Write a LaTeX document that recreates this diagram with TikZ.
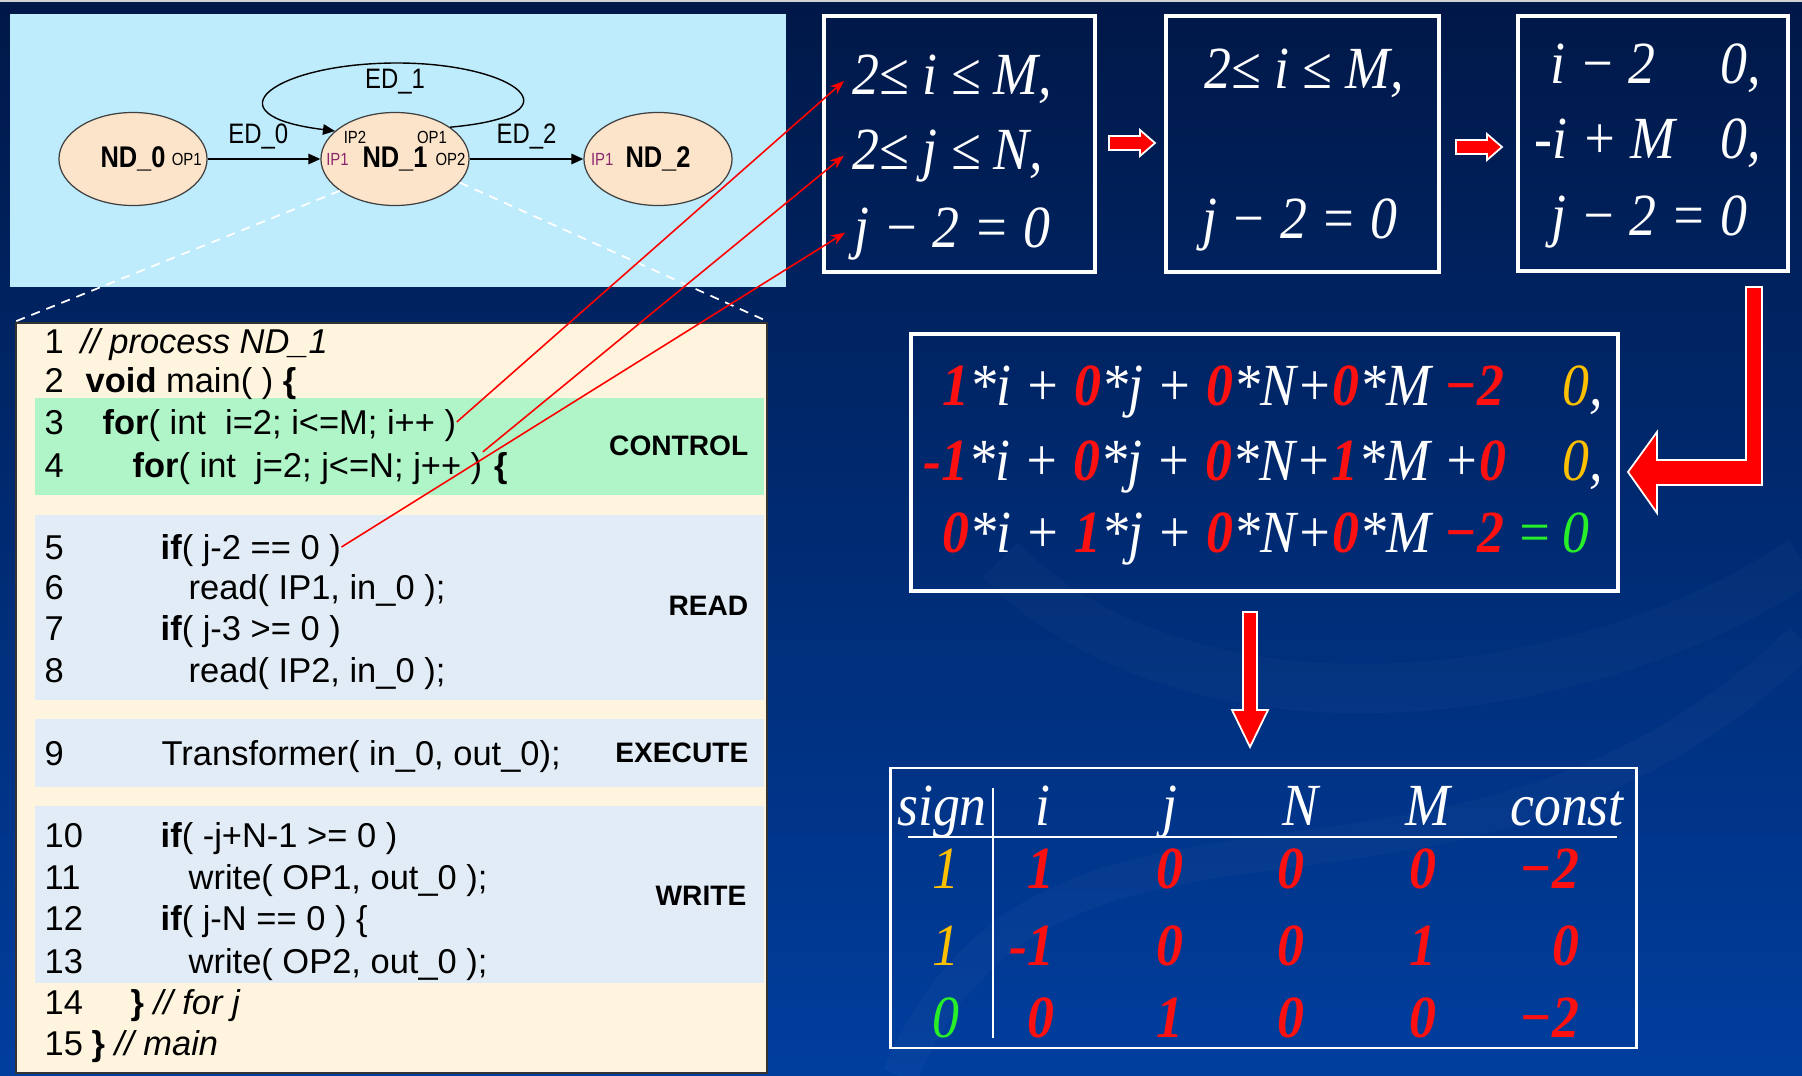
\documentclass[tikz,border=0pt]{standalone}
\usepackage{fontspec}
\usepackage{xcolor}
\usepackage{tikz}
\usetikzlibrary{
	arrows.meta,
	calc,
	positioning,
	shapes.geometric
}
\newfontfamily\codefont{Liberation Sans}
\newfontfamily\graphfont[FakeStretch=0.85]{Liberation Sans}
\newfontfamily\eqfont[FakeStretch=0.9]{Liberation Serif}

\definecolor{BgTop}{RGB}{0,24,72}
\definecolor{BgBot}{RGB}{0,62,158}
\definecolor{PanelBlue}{RGB}{190,236,252}
\definecolor{NodeFill}{RGB}{252,228,202}
\definecolor{CodeCream}{RGB}{255,245,222}
\definecolor{CtrlGreen}{RGB}{176,245,200}
\definecolor{BandBlue}{RGB}{226,236,246}
\definecolor{EqRed}{RGB}{255,16,16}
\definecolor{EqOrange}{RGB}{255,192,0}
\definecolor{EqGreen}{RGB}{40,240,40}
\definecolor{PortIn}{RGB}{140,40,110}

\newcommand{\rc}[1]{\textcolor{EqRed}{\bfseries #1}}

\tikzset{
	proc/.style={ellipse, draw=black!75, fill=NodeFill, line width=0.35pt, minimum width=1.48cm, minimum height=0.93cm, inner sep=0pt, font=\graphfont\bfseries\fontsize{8.5}{10}\selectfont},
	port/.style={inner sep=0.5pt, font=\graphfont\fontsize{5}{6}\selectfont},
	edge/.style={-{Triangle[length=3.4pt,width=3pt]}, line width=0.4pt},
	elabel/.style={inner sep=0pt, font=\graphfont\fontsize{8}{9}\selectfont},
	codeline/.style={anchor=west, inner sep=0pt, text height=7.1pt, text depth=0pt, font=\codefont\fontsize{9.8}{12}\selectfont},
	tag/.style={anchor=east, inner sep=0pt, text height=5.8pt, text depth=0pt, font=\codefont\bfseries\fontsize{8}{9}\selectfont},
	mathbox/.style={draw=white, line width=1pt, inner sep=0pt},
	eq/.style={inner sep=0pt, text=white, text height=11.5pt, text depth=0pt, font=\eqfont\itshape\fontsize{17}{20}\selectfont},
	redlink/.style={draw=red, line width=0.45pt, -{Stealth[length=4pt,width=3pt]}},
	zoomline/.style={draw=white, line width=0.5pt, dash pattern=on 2.6pt off 2pt},
	blockarrow/.style={fill=red, draw=white, line width=0.5pt, line join=miter}
}

\begin{document}
\begin{tikzpicture}[x=0.01cm, y=-0.01cm]
	\useasboundingbox (0,0) rectangle (1802,1076);
	\shade[top color=BgTop, bottom color=BgBot] (0,0) rectangle (1802,1076);
	\fill[gray!35] (0,0) rectangle (1802,2.5);
	\draw[white, opacity=0.025, line width=10pt] (900,1076) .. controls (1050,720) and (1450,980) .. (1802,640);
	\draw[white, opacity=0.02, line width=14pt] (1000,560) .. controls (1200,760) and (1600,700) .. (1802,560);

	% process graph
	\fill[PanelBlue] (10,14) rectangle (786,287);
	\node[proc] (nd0) at (133,159) {ND\_0};
	\node[proc] (nd1) at (395,159) {ND\_1};
	\node[proc] (nd2) at (658,159) {ND\_2};
	\node[port, anchor=east] (nd0op1) at ([xshift=-1pt]nd0.east) {OP1};
	\node[port, anchor=west, text=PortIn] (nd1ip1) at ([xshift=1pt]nd1.west) {IP1};
	\node[port, anchor=east] (nd1op2) at ([xshift=-0.5pt]nd1.east) {OP2};
	\node[port] (nd1ip2) at ([shift={(-40,-22)}]nd1.center) {IP2};
	\node[port] (nd1op1) at ([shift={(37,-22)}]nd1.center) {OP1};
	\node[port, anchor=west, text=PortIn] (nd2ip1) at ([xshift=1.5pt]nd2.west) {IP1};
	\draw[edge] (nd0) -- (nd1) node[elabel, pos=0.45, above=2.5pt] (ed0) {ED\_0};
	\draw[edge] (nd1) -- (nd2) node[elabel, midway, above=2.5pt] (ed2) {ED\_2};
	\draw[edge] (nd1.30) .. controls (585,115) and (515,63) .. (397,63)
		.. controls (275,63) and (205,115) .. (nd1.155);
	\node[elabel] (ed1) at (395,82) {ED\_1};

	% code of ND_1
	\node[draw=black!80, fill=CodeCream, line width=0.6pt, minimum width=7.51cm, minimum height=7.5cm, inner sep=0pt] (code) at (391.5,698) {};
	\fill[CtrlGreen] (35,398) rectangle (764,495);
	\fill[BandBlue] (35,515) rectangle (764,700);
	\fill[BandBlue] (35,719) rectangle (764,787);
	\fill[BandBlue] (35,806) rectangle (764,983);
	\draw[zoomline] (nd1.210) -- (code.north west);
	\draw[zoomline] (nd1.-20) -- (code.north east);
	\foreach \n/\x/\y/\t in {
		1/80/341/{\textit{// process ND\_1}},
		2/85/380/{\textbf{void} main( ) \textbf{\{}},
		3/102/422/{\textbf{for}( int\ \ i=2; i<=M; i++ )},
		4/132/465/{\textbf{for}( int\ \ j=2; j<=N; j++ )},
		5/160/547/{\textbf{if}( j-2 == 0 )},
		6/188/587/{read( IP1, in\_0 );},
		7/160/628/{\textbf{if}( j-3 >= 0 )},
		8/188/670/{read( IP2, in\_0 );},
		9/161/753/{Transformer( in\_0, out\_0);},
		10/160/835/{\textbf{if}( -j+N-1 >= 0 )},
		11/188/877/{write( OP1, out\_0 );},
		12/160/918/{\textbf{if}( j-N == 0 ) \{},
		13/188/961/{write( OP2, out\_0 );},
		14/130/1002/{\textbf{\}} \textit{// for j}},
		15/91/1043/{\textbf{\}} \textit{// main}}} {
		\node[codeline] (num\n) at (44,\y) {\n};
		\node[codeline] (ln\n) at (\x,\y) {\t};
	}
	\node[codeline, right=3pt of ln4] (ln4b) {\textbf{\{}};
	\node[tag] (tctrl) at (749,445) {CONTROL};
	\node[tag] (tread) at (749,605) {READ};
	\node[tag] (texec) at (749,752) {EXECUTE};
	\node[tag] (twrite) at (747,895) {WRITE};

	% polyhedral constraints
	\node[mathbox, minimum width=2.71cm, minimum height=2.56cm] (boxA) at (959.5,144) {};
	\node[mathbox, minimum width=2.73cm, minimum height=2.56cm] (boxB) at (1302.5,144) {};
	\node[mathbox, minimum width=2.7cm, minimum height=2.55cm] (boxC) at (1653,143.5) {};
	\node[eq, anchor=west] (a1) at (852,74) {2≤ i ≤ M,};
	\node[eq, anchor=west] (a2) at (852,149) {2≤ j ≤ N,};
	\node[eq, anchor=west] (a3) at (854,227) {j − 2 = 0};
	\node[eq] (b1) at (1304,68) {2≤ i ≤ M,};
	\node[eq] (b3) at (1300,218) {j − 2 = 0};
	\node[eq, anchor=west] (c1) at (1550,63) {i − 2};
	\node[eq, anchor=west] (c1r) at (1720,63) {0,};
	\node[eq, anchor=west] (c2) at (1534,138) {-i + M};
	\node[eq, anchor=west] (c2r) at (1720,138) {0,};
	\node[eq, anchor=west] (c3) at (1551,215) {j − 2 = 0};
	\filldraw[blockarrow] (1109,136) -- (1140,136) -- (1140,130) -- (1155,143) -- (1140,156) -- (1140,150) -- (1109,150) -- cycle;
	\filldraw[blockarrow] (1456,140) -- (1487,140) -- (1487,134) -- (1502,147) -- (1487,160) -- (1487,154) -- (1456,154) -- cycle;
	\filldraw[blockarrow] (1746,287) -- (1762,287) -- (1762,485) -- (1657,485) -- (1657,513) -- (1628,472) -- (1657,432) -- (1657,460) -- (1746,460) -- cycle;

	\node[mathbox, minimum width=7.07cm, minimum height=2.57cm] (eqbox) at (1264.5,462.5) {};
	\node[eq, anchor=west] (r1) at (942,385) {\rc{1}*i + \rc{0}*j + \rc{0}*N+\rc{0}*M \rc{−2}};
	\node[eq, anchor=west] (r1s) at (1562,385) {\textcolor{EqOrange}{0},};
	\node[eq, anchor=west] (r2) at (923,460) {\rc{-1}*i + \rc{0}*j + \rc{0}*N+\rc{1}*M +\rc{0}};
	\node[eq, anchor=west] (r2s) at (1562,460) {\textcolor{EqOrange}{0},};
	\node[eq, anchor=west] (r3) at (942,532) {\rc{0}*i + \rc{1}*j + \rc{0}*N+\rc{0}*M \rc{−2}};
	\node[eq, anchor=west, text=EqGreen] (r3s) at (1562,532) {\llap{=\,}0};
	\filldraw[blockarrow] (1243,612) -- (1257,612) -- (1257,710) -- (1268,710) -- (1250,747) -- (1232,710) -- (1243,710) -- cycle;

	% coefficient table
	\node[mathbox, line width=0.8pt, minimum width=7.45cm, minimum height=2.8cm] (tabbox) at (1263.5,908) {};
	\foreach \x/\h in {942/sign, 1043/i, 1170/j, 1300/N, 1428/M, 1567/const}
		\node[eq, anchor=base] (h\h) at (\x,825) {\h};
	\draw[white, line width=0.4pt] (908,837) -- (1617,837);
	\draw[white, line width=0.4pt] (993,788) -- (993,1038);
	\foreach \r/\y/\sg/\sgc/\vi/\vj/\vn/\vm/\vc in {
		1/868/1/EqOrange/1/0/0/0/−2,
		2/945/1/EqOrange/-1/0/0/1/0,
		3/1017/0/EqGreen/0/1/0/0/−2} {
		\node[eq, text=\sgc] (ts\r) at (946,\y) {\sg};
		\node[eq, anchor=east] (ti\r) at (1055,\y) {\rc{\vi}};
		\node[eq] (tj\r) at (1170,\y) {\rc{\vj}};
		\node[eq] (tn\r) at (1291,\y) {\rc{\vn}};
		\node[eq] (tm\r) at (1423,\y) {\rc{\vm}};
		\node[eq, anchor=east] (tc\r) at (1580,\y) {\rc{\vc}};
	}

	\draw[redlink, shorten >=3pt] (ln3.east) -- (a1.west);
	\draw[redlink, shorten >=3pt] (ln4.north east) -- (a2.west);
	\draw[redlink, shorten >=3pt] (ln5.east) -- (a3.west);
\end{tikzpicture}
\end{document}
